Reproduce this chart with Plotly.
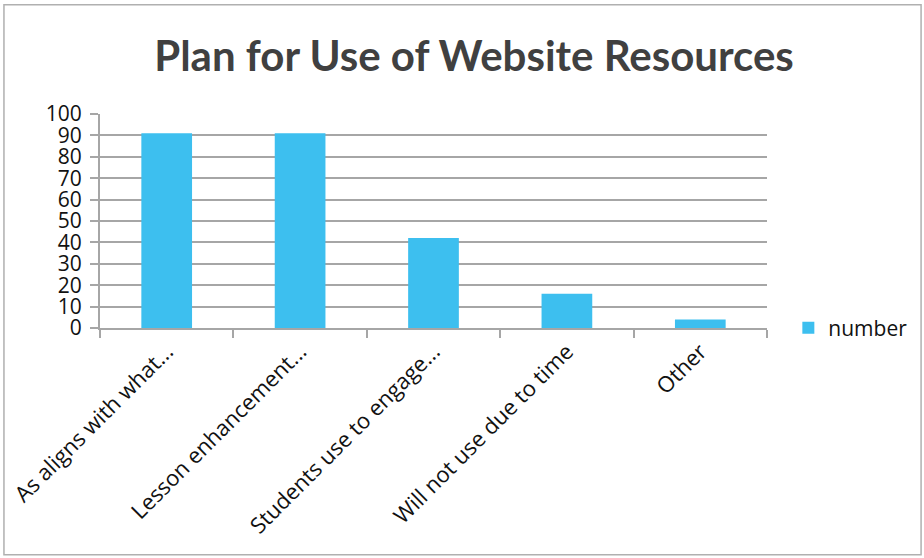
import plotly.graph_objects as go

categories = ['As aligns with what...', 'Lesson enhancement...', 'Students use to engage...',
              'Will not use due to time', 'Other']
number = [91, 91, 42, 16, 4]
y_ticks = [0, 10, 20, 30, 40, 50, 60, 70, 80, 90, 100]

fig = go.Figure()
fig.add_trace(go.Bar(x=categories, y=number, name='number', marker_color='#3DBFEF',
                     marker_line_width=0))

fig.update_layout(
	width=924, height=558,
	paper_bgcolor='white', plot_bgcolor='white',
	margin=dict(l=100, r=157, t=114, b=230, autoexpand=False),
	title=dict(text='<b>Plan for Use of Website Resources</b>', x=0.513, xanchor='center',
			   y=0.9, yanchor='middle', font=dict(family='Lato', size=42, color='#404040')),
	bargap=0.62,
	showlegend=True,
	legend=dict(x=1.032, y=0.0, xanchor='left', yanchor='middle', font=dict(family='Open Sans', size=21, color='#111'),
				itemwidth=30, bgcolor='rgba(0,0,0,0)'),
	font=dict(family='Open Sans', color='#111'),
)
# tick labels are packed as tightly as in the original chart
fig.update_yaxes(range=[0, 100], tickvals=y_ticks, showgrid=True, gridcolor='#A6A6A6', gridwidth=2,
				 showline=True, linecolor='#A6A6A6', linewidth=2, ticks='outside', ticklen=8,
				 tickcolor='#A6A6A6', tickwidth=2, tickfont=dict(size=21, color='#111'), ticklabelstandoff=4,
				 zeroline=False)
fig.update_xaxes(showline=True, linecolor='#A6A6A6', linewidth=2, ticks='outside', ticklen=8,
				 tickcolor='#A6A6A6', tickwidth=2, tickson='boundaries', tickangle=-45,
				 tickfont=dict(size=22, color='#111'))
fig.add_shape(type='rect', xref='paper', yref='paper', x0=-0.144, x1=1.231, y0=-1.06, y1=1.51,
			  line=dict(color='#B0B0B0', width=1.5))
# page body margin would shift the chart by 8px
fig.write_html("out.html", config={'displayModeBar': False},
			   post_script="document.body.style.margin='0';")
